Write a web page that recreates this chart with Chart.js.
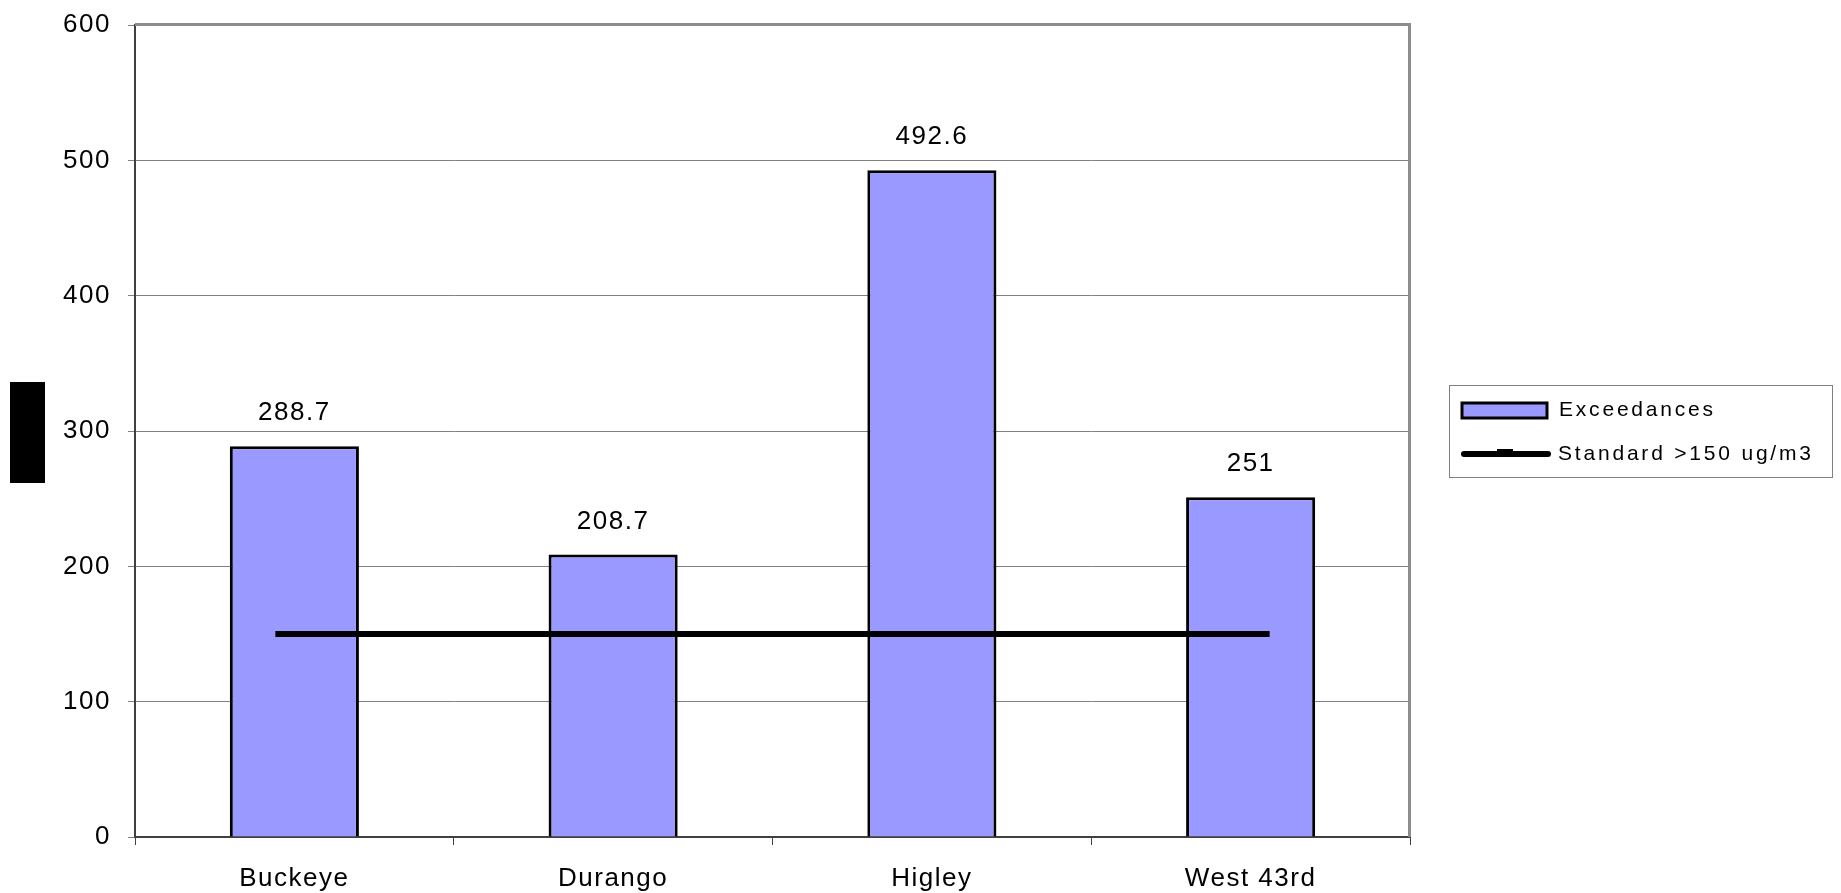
<!DOCTYPE html>
<html>
<head>
<meta charset="utf-8">
<script src="https://cdn.jsdelivr.net/npm/chart.js@4.4.0/dist/chart.umd.min.js"></script>
<style>
  html, body { margin: 0; padding: 0; background: #fff; }
  #wrap { width: 1841px; height: 893px; }
</style>
</head>
<body>
<div id="wrap"><canvas id="chart" width="1841" height="893"></canvas></div>
<script>
const sites = ['Buckeye', 'Durango', 'Higley', 'West 43rd'];
const exceedances = [288.7, 208.7, 492.6, 251];
const standard = [150, 150, 150, 150];
const yTicks = [0, 100, 200, 300, 400, 500, 600];

const FONT = "'Liberation Sans', Arial, sans-serif";

// value labels above each bar
const barLabels = {
    id: 'barLabels',
    afterDatasetsDraw(chart) {
        const ctx = chart.ctx;
        const meta = chart.getDatasetMeta(0);
        ctx.save();
        ctx.letterSpacing = '1.5px';
        ctx.font = '26px ' + FONT;
        ctx.fillStyle = '#000';
        ctx.textAlign = 'center';
        ctx.textBaseline = 'alphabetic';
        meta.data.forEach((bar, i) => {
            ctx.fillText(String(exceedances[i]), bar.x, bar.y - 26);
        });
        ctx.restore();
    }
};

// plot frame, hidden axis title block and legend
const decorations = {
    id: 'decorations',
    beforeDraw(chart) {
        chart.ctx.letterSpacing = '1.5px';
    },
    afterDraw(chart) {
        const ctx = chart.ctx;
        const a = chart.chartArea;
        ctx.save();
        ctx.letterSpacing = '0px';

        // top and right frame
        ctx.strokeStyle = '#8c8c8c';
        ctx.lineWidth = 3;
        ctx.beginPath();
        ctx.moveTo(a.left, a.top - 0.5);
        ctx.lineTo(a.right - 0.5, a.top - 0.5);
        ctx.lineTo(a.right - 0.5, a.bottom);
        ctx.stroke();

        // redacted axis title
        ctx.fillStyle = '#000';
        ctx.fillRect(10, 382, 35, 101);

        // legend
        const lx = a.right + 39;
        const ly = 385;
        ctx.strokeStyle = '#808080';
        ctx.lineWidth = 1;
        ctx.strokeRect(lx + 0.5, ly + 0.5, 383, 92);

        ctx.fillStyle = '#9999ff';
        ctx.fillRect(lx + 13, ly + 18, 85, 15);
        ctx.strokeStyle = '#000';
        ctx.lineWidth = 3;
        ctx.strokeRect(lx + 13, ly + 18, 85, 15);

        ctx.lineWidth = 6;
        ctx.lineCap = 'round';
        ctx.beginPath();
        ctx.moveTo(lx + 15, ly + 69);
        ctx.lineTo(lx + 99, ly + 69);
        ctx.stroke();
        ctx.fillStyle = '#000';
        ctx.fillRect(lx + 48, ly + 64, 16, 6);

        ctx.letterSpacing = '2.8px';
        ctx.font = '21px ' + FONT;
        ctx.textAlign = 'left';
        ctx.textBaseline = 'middle';
        ctx.fillText(chart.data.datasets[0].label, lx + 110, ly + 25);
        ctx.fillText(chart.data.datasets[1].label, lx + 109, ly + 69);
        ctx.restore();
    }
};

new Chart(document.getElementById('chart'), {
    type: 'bar',
    data: {
        labels: sites,
        datasets: [
            {
                label: 'Exceedances',
                data: exceedances,
                backgroundColor: '#9999ff',
                borderColor: '#000',
                borderWidth: 3,
                borderSkipped: 'start',
                categoryPercentage: 1,
                barPercentage: 0.405,
                order: 2
            },
            {
                label: 'Standard >150 ug/m3',
                type: 'line',
                data: standard,
                borderColor: '#000',
                borderWidth: 6,
                pointStyle: 'line',
                pointRadius: 19,
                pointBorderWidth: 6,
                pointBorderColor: '#000',
                pointBackgroundColor: '#000',
                fill: false,
                tension: 0,
                order: 1
            }
        ]
    },
    options: {
        responsive: false,
        animation: false,
        events: [],
        layout: { padding: { left: 0, right: 431, top: 24, bottom: 0 } },
        plugins: {
            legend: { display: false },
            tooltip: { enabled: false }
        },
        scales: {
            x: {
                afterFit(scale) { scale.height = 56; },
                grid: {
                    display: true,
                    drawOnChartArea: false,
                    drawTicks: true,
                    tickLength: 8,
                    color: '#404040',
                    lineWidth: 1
                },
                border: { display: true, color: '#404040', width: 2 },
                ticks: {
                    color: '#000',
                    font: { family: FONT, size: 26 },
                    padding: 18,
                    maxRotation: 0
                }
            },
            y: {
                min: 0,
                max: 600,
                afterFit(scale) {
                    scale.width = 135;
                    scale.paddingTop = 0;
                    scale.paddingBottom = 0;
                },
                afterBuildTicks(scale) {
                    scale.ticks = yTicks.map(v => ({ value: v }));
                },
                grid: {
                    color: '#808080',
                    lineWidth: 1,
                    drawTicks: true,
                    tickLength: 7
                },
                border: { display: true, color: '#404040', width: 2 },
                ticks: {
                    color: '#000',
                    font: { family: FONT, size: 26 },
                    padding: 17
                }
            }
        }
    },
    plugins: [barLabels, decorations]
});
</script>
</body>
</html>
